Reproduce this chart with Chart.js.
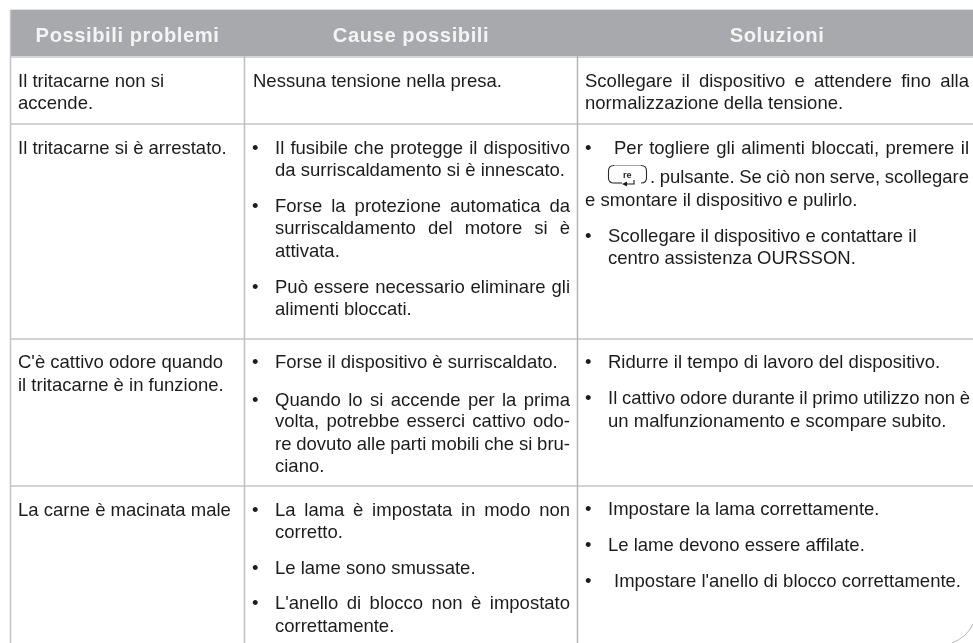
<!DOCTYPE html>
<html><head><meta charset="utf-8">
<style>html,body{margin:0;padding:0;background:#fff}canvas{display:block}</style>
<script src="https://cdn.jsdelivr.net/npm/chart.js@4"></script>
</head><body><canvas id="c" width="973" height="643"></canvas>
<script>
const headers = ["Possibili problemi", "Cause possibili", "Soluzioni"];
const problems = ["Il tritacarne non si", "accende.", "Il tritacarne si è arrestato.", "C'è cattivo odore quando", "il tritacarne è in funzione.", "La carne è macinata male"];
const causes = ["Il fusibile che protegge il dispositivo", "da surriscaldamento si è innescato.", "Forse la protezione automatica da", "surriscaldamento del motore si è", "attivata.", "Può essere necessario eliminare gli", "alimenti bloccati.", "Forse il dispositivo è surriscaldato.", "Quando lo si accende per la prima", "volta, potrebbe esserci cattivo odo-", "re dovuto alle parti mobili che si bru-", "ciano.", "La lama è impostata in modo non", "corretto.", "Le lame sono smussate.", "L'anello di blocco non è impostato", "correttamente."];
const causeNoBullet = "Nessuna tensione nella presa.";
const solutionsPlain = ["Scollegare il dispositivo e attendere fino alla", "normalizzazione della tensione.", "e smontare il dispositivo e pulirlo."];
const solutionsBullet = ["Per togliere gli alimenti bloccati, premere il", ". pulsante. Se ciò non serve, scollegare", "Scollegare il dispositivo e contattare il", "centro assistenza OURSSON.", "Ridurre il tempo di lavoro del dispositivo.", "Il cattivo odore durante il primo utilizzo non è", "un malfunzionamento e scompare subito.", "Impostare la lama correttamente.", "Le lame devono essere affilate.", "Impostare l'anello di blocco correttamente."];
const buttonLabel = "re";

// table geometry in the scale's units (separate from the content above)
const W = 973, H = 643;
const colEdges = [10.5, 244.5, 577.5];
const rowEdges = [124, 339, 486];
const headTop = 10, headBottom = 56;
const FONT = '"Liberation Sans"';
const SIZE = 18.5;

const rule = (x0, y0, x1, y1, color, w) => ({type:'line', data:[{x:x0,y:y0},{x:x1,y:y1}], borderColor:color, borderWidth:w, pointRadius:0, tension:0, borderCapStyle:'butt', order:0});
const datasets = [
  rule(colEdges[0], headTop, colEdges[0], H, '#c2c3c6', 1.5),
  rule(colEdges[1], headBottom, colEdges[1], H, '#bdbec1', 1.5),
  rule(colEdges[2], headBottom, colEdges[2], H, '#b4b5b8', 1.5),
  rule(colEdges[0], headBottom+1, W, headBottom+1, '#c8c9cb', 1.5),
  ...rowEdges.map(y => rule(colEdges[0], y, W, y, '#c4c5c8', 1.5)),
  rule(colEdges[0], (headTop+headBottom)/2, W, (headTop+headBottom)/2, '#a7a9ac', headBottom-headTop),
  rule(colEdges[1], headTop+2, colEdges[1], headBottom-1, '#e6e7e8', 1.2),
  rule(colEdges[2], headTop+2, colEdges[2], headBottom-1, '#e6e7e8', 1.2),
  rule(colEdges[0], headTop, W, headTop, '#c2c3c6', 1.2)
];

const col1Y = [87,109,154,368,391,516];
const causeY = [154,176,212,234,257,293,315,368,406,427,450,472,516,538,574,609,632];
const causeJust = [1,0,1,1,0,1,0,0,1,1,1,0,1,0,0,1,0];
const causeBullet = [1,0,1,0,0,1,0,1,1,0,0,0,1,0,1,1,0];
const plainY = [87,109,206];
const plainJust = [1,0,0];
const solY = [154,183,242,264,368,404,427,515,551,587];
const solX = [614,650,608,608,608,608,608,608,608,614];
const solRight = [969,969,0,0,0,970,0,0,0,0];
const solBullet = [1,0,1,0,1,1,0,1,1,1];
const headCx = [127.5,411,777];

const tablePlugin = {
  id:'tableText',
  afterDatasetsDraw(chart){
    const c = chart.ctx, X = v=>chart.scales.x.getPixelForValue(v), Y = v=>chart.scales.y.getPixelForValue(v);
    c.save();
    c.textBaseline='alphabetic';
    c.font = `bold 20.2px ${FONT}`;
    c.letterSpacing='0.55px';
    c.fillStyle='#f4f4f4';
    c.textAlign='center';
    headers.forEach((h,i)=>c.fillText(h,X(headCx[i]),Y(42)));
    c.letterSpacing='0px';
    c.textAlign='left';
    c.font = `${SIZE}px ${FONT}`;
    c.fillStyle='#1c1c1c';
    const put=(t,x,y,right)=>{
      c.wordSpacing='0px';
      if(right){
        const n=t.split(' ').length-1;
        const gap=(right-x-c.measureText(t).width)/n;
        c.wordSpacing=gap+'px';
      }
      c.fillText(t,X(x),Y(y));
      c.wordSpacing='0px';
    };
    problems.forEach((t,i)=>put(t,18,col1Y[i]));
    put(causeNoBullet,253,87);
    causes.forEach((t,i)=>{
      if(causeBullet[i]) put('•',252,causeY[i]);
      put(t,275,causeY[i],causeJust[i]?570:0);
    });
    solutionsPlain.forEach((t,i)=>put(t,585,plainY[i],plainJust[i]?969:0));
    solutionsBullet.forEach((t,i)=>{
      if(solBullet[i]) put('•',585,solY[i]);
      put(t,solX[i],solY[i],solRight[i]);
    });
    // button glyph: open brackets, faint top, short bottom
    c.strokeStyle='#2a2a2a'; c.lineWidth=1.1;
    const bracket=(x0,x1)=>{c.beginPath(); c.moveTo(X(x0),Y(165.5)); c.quadraticCurveTo(X(x1),Y(165.5),X(x1),Y(171)); c.lineTo(X(x1),Y(178)); c.quadraticCurveTo(X(x1),Y(183),X(x0),Y(183)); c.stroke();};
    bracket(614,608.5); bracket(641,646.5);
    c.beginPath(); c.moveTo(X(614),Y(183)); c.lineTo(X(622),Y(183)); c.stroke();
    c.strokeStyle='#8a8a8a'; c.lineWidth=.8;
    c.beginPath(); c.moveTo(X(614),Y(165.5)); c.lineTo(X(641),Y(165.5)); c.stroke();
    c.font=`bold 9px ${FONT}`; c.fillStyle='#1c1c1c';
    c.fillText(buttonLabel,X(623),Y(178));
    c.strokeStyle='#1c1c1c'; c.lineWidth=1.1;
    c.beginPath(); c.moveTo(X(634),Y(180)); c.lineTo(X(634),Y(184)); c.lineTo(X(626),Y(184)); c.stroke();
    c.beginPath(); c.moveTo(X(622),Y(184)); c.lineTo(X(627),Y(181.5)); c.lineTo(X(627),Y(186.5)); c.closePath(); c.fill();
    // page corner
    c.strokeStyle='#b8b8b8'; c.lineWidth=1;
    c.beginPath(); c.moveTo(X(952),Y(643)); c.quadraticCurveTo(X(967),Y(637),X(973),Y(624)); c.stroke();
    c.restore();
  }
};

new Chart(document.getElementById('c'),{
  type:'line',
  data:{datasets},
  plugins:[tablePlugin],
  options:{
    responsive:false, animation:false, parsing:false,
    layout:{padding:0},
    plugins:{legend:{display:false},tooltip:{enabled:false},title:{display:false}},
    scales:{
      x:{type:'linear',min:0,max:W,display:false},
      y:{type:'linear',min:0,max:H,reverse:true,display:false}
    }
  }
});
</script></body></html>
